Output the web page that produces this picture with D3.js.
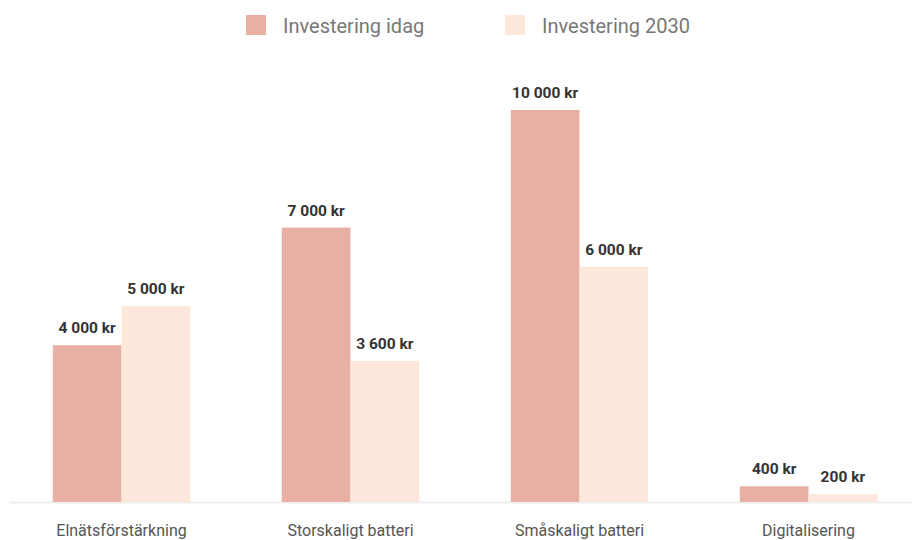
<!DOCTYPE html>
<html>
<head>
<meta charset="utf-8">
<script src="https://cdn.jsdelivr.net/npm/d3@7"></script>
<style>
  html, body { margin: 0; padding: 0; background: #fff; }
  svg { display: block; font-family: Roboto, "Noto Sans", sans-serif; }
</style>
</head>
<body>
<svg id="chart" width="912" height="540"></svg>
<script>
const categories = ["Elnätsförstärkning", "Storskaligt batteri", "Småskaligt batteri", "Digitalisering"];
const seriesNames = ["Investering idag", "Investering 2030"];
const valuesIdag = [4000, 7000, 10000, 400];
const values2030 = [5000, 3600, 6000, 200];
const seriesColors = ["#e8afa4", "#fde8db"];

const svg = d3.select("#chart");
const W = 912, H = 540;
const baseY = 502, topY = 110;

const x0 = d3.scaleBand().domain(categories).range([7, 923]).paddingInner(0.4).paddingOuter(0.2);
const x1 = d3.scaleBand().domain(seriesNames).range([0, x0.bandwidth()]).padding(0);
const y = d3.scaleLinear().domain([0, 10000]).range([baseY, topY]);

const fmt = v => d3.format(",")(v).replace(/,/g, "\u00a0") + " kr";

const data = categories.map((c, i) => ({
  cat: c,
  vals: [
    { s: seriesNames[0], v: valuesIdag[i], color: seriesColors[0] },
    { s: seriesNames[1], v: values2030[i], color: seriesColors[1] }
  ]
}));

// baseline
svg.append("line")
  .attr("x1", 9).attr("x2", W)
  .attr("y1", baseY + 0.5).attr("y2", baseY + 0.5)
  .attr("stroke", "#eeeeee").attr("stroke-width", 2);

const groups = svg.append("g").selectAll("g").data(data).join("g")
  .attr("transform", d => `translate(${x0(d.cat)},0)`);

groups.selectAll("rect").data(d => d.vals).join("rect")
  .attr("x", d => x1(d.s))
  .attr("y", d => y(d.v))
  .attr("width", x1.bandwidth())
  .attr("height", d => y(0) - y(d.v))
  .attr("fill", d => d.color);

groups.selectAll("text.val").data(d => d.vals).join("text")
  .attr("class", "val")
  .attr("x", d => x1(d.s) + x1.bandwidth() / 2)
  .attr("y", d => y(d.v) - 12)
  .attr("text-anchor", "middle")
  .attr("font-size", 15.5)
  .attr("font-weight", 700)
  .attr("fill", "#333333")
  .text(d => fmt(d.v));

// category axis labels
const xAxis = d3.axisBottom(x0).tickSize(0).tickPadding(0);
const ax = svg.append("g").attr("transform", `translate(0,${baseY})`).call(xAxis);
ax.select(".domain").remove();
ax.selectAll("text")
  .attr("dy", 0)
  .attr("y", 34)
  .attr("font-size", 16)
  .attr("font-family", "Roboto, sans-serif")
  .attr("fill", "#555555");

// legend
const legendX = [246, 505];
const leg = svg.append("g").selectAll("g").data(seriesNames).join("g")
  .attr("transform", (d, i) => `translate(${legendX[i]},15)`);
leg.append("rect").attr("width", 20).attr("height", 20)
  .attr("fill", (d, i) => seriesColors[i]);
leg.append("text").attr("x", 37).attr("y", 17.5)
  .attr("font-size", 20).attr("fill", "#777777")
  .text(d => d);
</script>
</body>
</html>
